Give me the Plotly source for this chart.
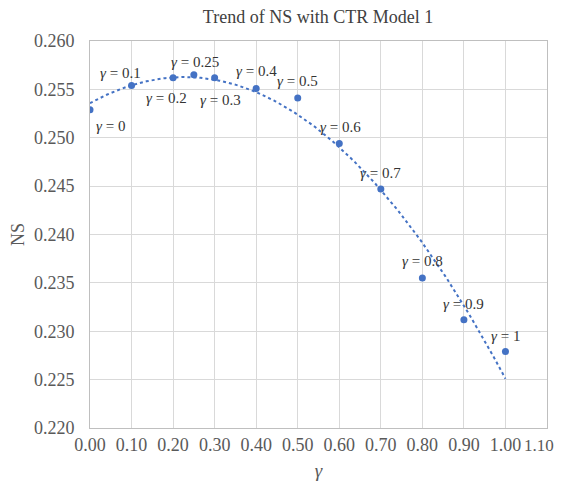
import numpy as np
import plotly.graph_objects as go

gamma = [0.0, 0.1, 0.2, 0.25, 0.3, 0.4, 0.5, 0.6, 0.7, 0.8, 0.9, 1.0]
ns = [0.2529, 0.2554, 0.2562, 0.2565, 0.2562, 0.2551, 0.2541, 0.2494, 0.2447, 0.2355, 0.2312, 0.2279]
labels = ["0", "0.1", "0.2", "0.25", "0.3", "0.4", "0.5", "0.6", "0.7", "0.8", "0.9", "1"]
x_ticks = [round(0.1 * i, 2) for i in range(12)]
x_ticktext = ["%.2f" % v for v in x_ticks]
y_ticks = [0.220, 0.225, 0.230, 0.235, 0.240, 0.245, 0.250, 0.255, 0.260]

# label offsets (pixels) relative to each point
offsets = [(20, -16), (-11, 13), (-7, -20), (1, 13), (6, -22), (0, 17), (0, 17), (1, 17), (0, 16), (0, 17), (0, 16), (0, 16)]

color = "#4472C4"
serif = "Liberation Serif, Times New Roman, serif"
tick_font = dict(family=serif, size=18, color="#595959")

coef = np.polyfit(gamma, ns, 2)
xt = np.linspace(0, 1, 200)
yt = np.polyval(coef, xt)

fig = go.Figure()
fig.add_trace(go.Scatter(x=xt, y=yt, mode="lines",
                         line=dict(color=color, width=2, dash="dot"), hoverinfo="skip"))
fig.add_trace(go.Scatter(x=gamma, y=ns, mode="markers",
                         marker=dict(color=color, size=7)))

for g, v, lab, (dx, dy) in zip(gamma, ns, labels, offsets):
    fig.add_annotation(x=g, y=v, text="<i>γ</i> = " + lab, showarrow=False,
                       xshift=dx, yshift=dy, font=dict(family=serif, size=15, color="#333333"))

# last x tick label drawn as an annotation so it stays inside the visible page edge
fig.add_annotation(x=x_ticks[-1], y=y_ticks[0], text=x_ticktext[-1], showarrow=False,
                   xanchor="right", yanchor="middle", xshift=9, yshift=-17,
                   font=dict(family=serif, size=17, color="#595959"))

W, H = 557, 473
fig.update_layout(
    width=W, height=H,
    margin=dict(l=82, r=18, t=33, b=53, autoexpand=False),
    paper_bgcolor="white", plot_bgcolor="white",
    showlegend=False,
    title=dict(text="Trend of NS with CTR Model 1", x=310 / W, xanchor="center", y=1 - 9 / H, yanchor="middle",
               font=dict(family=serif, size=18, color="#404040")),
    font=dict(family=serif, color="#595959"),
)
fig.update_xaxes(range=[0, 1.1], tickvals=x_ticks, ticktext=x_ticktext[:-1] + [""], automargin=False,
                 showgrid=True, gridcolor="#d9d9d9", gridwidth=1,
                 showline=True, linecolor="#bfbfbf", mirror=True, zeroline=False,
                 tickfont=tick_font, ticks="",
                 title=dict(text="<i>γ</i>", font=dict(family=serif, size=19, color="#595959"), standoff=12))
fig.update_yaxes(range=[0.220, 0.260], tickvals=y_ticks, tickformat=".3f", automargin=False,
                 showgrid=True, gridcolor="#d9d9d9", gridwidth=1,
                 showline=True, linecolor="#bfbfbf", mirror=True, zeroline=False,
                 tickfont=tick_font, ticks="", ticklabelstandoff=11,
                 title=dict(text="NS", font=dict(family=serif, size=18, color="#595959"), standoff=6))

fig.write_html("out.html")
